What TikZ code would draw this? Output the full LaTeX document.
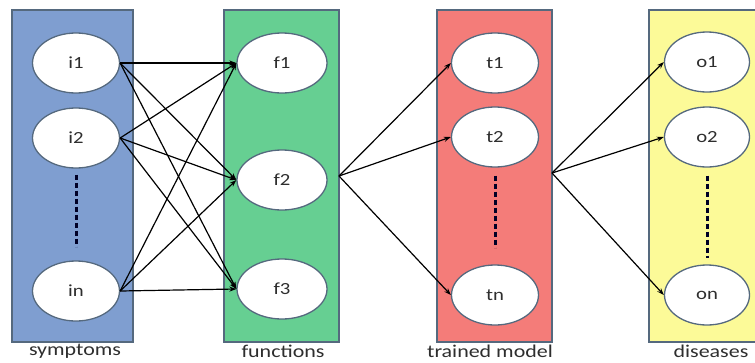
\documentclass[tikz,border=0pt]{standalone}
\usepackage{fontspec}
\setmainfont{Carlito}
\usetikzlibrary{shapes.geometric,arrows.meta}
\definecolor{cblue}{HTML}{7F9ED0}
\definecolor{cgreen}{HTML}{66CF92}
\definecolor{cred}{HTML}{F47C79}
\definecolor{cyellow}{HTML}{FCFA98}
\definecolor{cborder}{HTML}{55697E}
\definecolor{ctext}{HTML}{2E2E2E}
\tikzset{
  panel/.style={draw=cborder, line width=1.3pt},
  unit/.style={ellipse, draw=cborder, line width=1.3pt, fill=white,
    minimum width=87pt, minimum height=60pt, inner sep=0pt,
    font=\fontsize{17}{19}\selectfont, text=ctext},
  lbl/.style={font=\fontsize{18}{20}\selectfont, text=ctext},
  link/.style={line width=1.2pt, -{Stealth[length=7pt,width=5pt]}},
  vdots/.style={line width=3pt, dash pattern=on 5pt off 3pt, color=black!85!blue},
}
\newcommand{\sx}[1]{\scalebox{1.22}[1]{#1}}
\begin{document}
\begin{tikzpicture}[x=1pt,y=-1pt]
\useasboundingbox (0,0) rectangle (755,362);
\clip (0,0) rectangle (755,362);
\fill[white] (0,0) rectangle (755,362);
% panels
\draw[panel, fill=cblue] (12,10) rectangle (133,342);
\draw[panel, fill=cgreen] (224,10) rectangle (339,342);
\draw[panel, fill=cred] (437,10) rectangle (552,342);
\draw[panel, fill=cyellow] (649,10) rectangle (770,342);
% nodes
\node[unit] (i1) at (76,63) {\sx{i1}};
\node[unit] (i2) at (76,138) {\sx{i2}};
\node[unit] (in) at (76,291) {\sx{in}};
\node[unit, minimum width=90pt] (f1) at (282,63) {\sx{f1}};
\node[unit, minimum width=90pt] (f2) at (282,180) {\sx{f2}};
\node[unit, minimum width=90pt] (f3) at (282,289) {\sx{f3}};
\node[unit] (t1) at (495,63) {\sx{t1}};
\node[unit] (t2) at (495,137) {\sx{t2}};
\node[unit] (tn) at (495,295) {\sx{tn}};
\node[unit, minimum width=85pt] (o1) at (707,62) {\sx{o1}};
\node[unit, minimum width=85pt] (o2) at (707,137) {\sx{o2}};
\node[unit, minimum width=85pt] (on) at (707,295) {\sx{on}};
% dotted continuation
\draw[vdots] (i2.south) ++(0,6) -- ++(0,72);
\draw[vdots] (t2.south) ++(0,8) -- ++(0,72);
\draw[vdots] (o2.south) ++(0,8) -- ++(0,82);
% labels
\node[lbl] (ls) at (75,351) {\sx{symptoms}};
\node[lbl] (lf) at (283,351) {\sx{functions}};
\node[lbl] (lt) at (490,351) {\sx{trained model}};
\node[lbl] (ld) at (711,351) {\sx{diseases}};
% connectors
\foreach \s in {i1,i2,in}{
  \foreach \t in {f1,f2,f3}{
    \draw[link] (\s.east) -- (\t.west);
  }
}
\coordinate (gsrc) at (339,176);
\coordinate (rsrc) at (552,173);
\foreach \t in {t1,t2,tn}{ \draw[link] (gsrc) -- (\t.west); }
\foreach \t in {o1,o2,on}{ \draw[link] (rsrc) -- (\t.west); }
\end{tikzpicture}
\end{document}
